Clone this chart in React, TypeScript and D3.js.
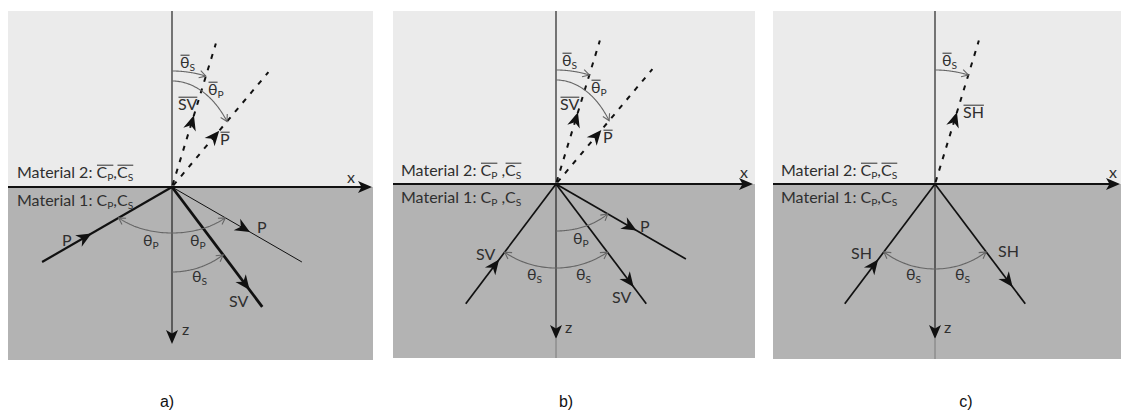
import React, { useEffect, useRef } from "react";
import * as d3 from "d3";

const WIDTH = 1121;
const HEIGHT = 412;

// Wave angles in degrees, measured from the z axis
const THETA_P = 60;
const THETA_S = 37;
const THETA_P_BAR = 40;
const THETA_S_BAR = 17;

const captions = ["a)", "b)", "c)"];

type Role = "incident" | "reflected" | "transmitted";
interface Ray { wave: string; phi: number; role: Role }
interface Arc { from: number; to: number; both: boolean }
interface Part { t: string; sub?: boolean; bar?: boolean }
interface Label { parts: Part[]; dx: number; dy: number; size?: number }

// Direction φ is measured from +z (downwards) turning toward +x
const raysA: Ray[] = [
  { wave: "P", phi: -THETA_P, role: "incident" },
  { wave: "P", phi: THETA_P, role: "reflected" },
  { wave: "SV", phi: THETA_S, role: "reflected" },
  { wave: "SV", phi: 180 - THETA_S_BAR, role: "transmitted" },
  { wave: "P", phi: 180 - THETA_P_BAR, role: "transmitted" },
];
const raysB: Ray[] = [
  { wave: "SV", phi: -THETA_S, role: "incident" },
  { wave: "P", phi: THETA_P, role: "reflected" },
  { wave: "SV", phi: THETA_S, role: "reflected" },
  { wave: "SV", phi: 180 - THETA_S_BAR, role: "transmitted" },
  { wave: "P", phi: 180 - THETA_P_BAR, role: "transmitted" },
];
const raysC: Ray[] = [
  { wave: "SH", phi: -THETA_S, role: "incident" },
  { wave: "SH", phi: THETA_S, role: "reflected" },
  { wave: "SH", phi: 180 - THETA_S_BAR, role: "transmitted" },
];

const arcsA: Arc[] = [
  { from: -THETA_P, to: THETA_P, both: true },
  { from: 0, to: THETA_S, both: false },
  { from: 180, to: 180 - THETA_S_BAR, both: false },
  { from: 180, to: 180 - THETA_P_BAR, both: false },
];
const arcsB: Arc[] = [
  { from: 0, to: THETA_P, both: false },
  { from: -THETA_S, to: THETA_S, both: true },
  { from: 180, to: 180 - THETA_S_BAR, both: false },
  { from: 180, to: 180 - THETA_P_BAR, both: false },
];
const arcsC: Arc[] = [
  { from: -THETA_S, to: THETA_S, both: true },
  { from: 180, to: 180 - THETA_S_BAR, both: false },
];

// Rich-text helpers
const theta = (s: string, bar = false): Part[] => [{ t: "θ", bar }, { t: s, sub: true }];
const plain = (t: string): Part[] => [{ t }];
const barred = (t: string): Part[] => [{ t, bar: true }];
const mat2 = (gap: string): Part[] => [
  { t: "Material 2: " }, { t: "C", bar: true }, { t: "P", sub: true, bar: true }, { t: gap + "," },
  { t: "C", bar: true }, { t: "S", sub: true, bar: true },
];
const mat1 = (gap: string): Part[] => [
  { t: "Material 1: " }, { t: "C" }, { t: "P", sub: true }, { t: gap + "," }, { t: "C" }, { t: "S", sub: true },
];

const labelsA: Label[] = [
  { parts: mat2(""), dx: -155, dy: -9 },
  { parts: mat1(""), dx: -155, dy: 19 },
  { parts: plain("x"), dx: 175, dy: -4 },
  { parts: plain("z"), dx: 10, dy: 148 },
  { parts: plain("P"), dx: -110, dy: 59 },
  { parts: plain("P"), dx: 85, dy: 46 },
  { parts: plain("SV"), dx: 57, dy: 120 },
  { parts: theta("P"), dx: -29, dy: 59 },
  { parts: theta("P"), dx: 18, dy: 59 },
  { parts: theta("S"), dx: 20, dy: 95 },
  { parts: theta("S", true), dx: 8, dy: -119 },
  { parts: theta("P", true), dx: 36, dy: -92 },
  { parts: barred("SV"), dx: 6, dy: -77 },
  { parts: barred("P"), dx: 48, dy: -42 },
];
const labelsB: Label[] = [
  { parts: mat2(" "), dx: -155, dy: -8 },
  { parts: mat1(" "), dx: -155, dy: 19 },
  { parts: plain("x"), dx: 184, dy: -6 },
  { parts: plain("z"), dx: 9, dy: 149 },
  { parts: plain("SV"), dx: -80, dy: 76 },
  { parts: plain("P"), dx: 84, dy: 48 },
  { parts: plain("SV"), dx: 56, dy: 119 },
  { parts: theta("P"), dx: 17, dy: 60 },
  { parts: theta("S"), dx: -29, dy: 96 },
  { parts: theta("S"), dx: 20, dy: 96 },
  { parts: theta("S", true), dx: 6, dy: -118 },
  { parts: theta("P", true), dx: 35, dy: -91 },
  { parts: barred("SV"), dx: 4, dy: -74 },
  { parts: barred("P"), dx: 47, dy: -41 },
];
const labelsC: Label[] = [
  { parts: mat2(""), dx: -154, dy: -8 },
  { parts: mat1(""), dx: -154, dy: 19 },
  { parts: plain("x"), dx: 174, dy: -6 },
  { parts: plain("z"), dx: 9, dy: 149 },
  { parts: plain("SH"), dx: -84, dy: 75 },
  { parts: plain("SH"), dx: 63, dy: 73 },
  { parts: theta("S"), dx: -29, dy: 96 },
  { parts: theta("S"), dx: 20, dy: 96 },
  { parts: theta("S", true), dx: 7, dy: -118 },
  { parts: barred("SH"), dx: 28, dy: -66 },
];

// Panel geometry (pixels)
const panels = [
  {
    rays: raysA, arcs: arcsA, labels: labelsA, caption: captions[0],
    origin: [172, 187], box: [8, 11, 373, 360], xTip: 372, zTip: 344, zTail: false,
    rayLen: 150, arrowAt: [0.62, 0.6, 0.86, 0.5, 0.49], rayWidth: [2.2, 1, 2.8, 2, 2],
    arcShape: [[72, 46], [85, 85], [116, 116], [70, 106]], captionX: 167,
  },
  {
    rays: raysB, arcs: arcsB, labels: labelsB, caption: captions[1],
    origin: [556, 184], box: [393, 11, 755, 358], xTip: 753, zTip: 339, zTail: true,
    rayLen: 150, arrowAt: [0.63, 0.62, 0.86, 0.5, 0.47], rayWidth: [1.7, 1.7, 1.7, 2, 2],
    arcShape: [[67, 47], [88, 84], [114, 114], [67, 104]], captionX: 566,
  },
  {
    rays: raysC, arcs: arcsC, labels: labelsC, caption: captions[2],
    origin: [935, 184], box: [773, 11, 1121, 359], xTip: 1120, zTip: 339, zTail: true,
    rayLen: 150, arrowAt: [0.63, 0.86, 0.5], rayWidth: [1.7, 1.7, 2],
    arcShape: [[85, 85], [114, 114]], captionX: 966,
  },
];

const UPPER_FILL = "#ebebeb";
const LOWER_FILL = "#b3b3b3";
const INK = "#111";
const TEXT = "#2f2f2f";
const ARC = "#666";
const FONT = "Lato, 'Open Sans', sans-serif";
const LABEL_SIZE = 16;

const rad = (d: number) => (d * Math.PI) / 180;

function filledHead(g: any, tip: number[], dir: number[], L: number, w: number, notch: number) {
  const px = -dir[1], py = dir[0];
  const bx = tip[0] - L * dir[0], by = tip[1] - L * dir[1];
  const pts = [
    [tip[0], tip[1]],
    [bx + w * px, by + w * py],
    [tip[0] - (L - notch) * dir[0], tip[1] - (L - notch) * dir[1]],
    [bx - w * px, by - w * py],
  ];
  g.append("path").attr("d", "M" + pts.map((p) => p.join(",")).join("L") + "Z").attr("fill", INK);
}

function openHead(g: any, tip: number[], dir: number[]) {
  const L = 7.5, a = rad(30);
  const back = [-dir[0], -dir[1]];
  const rot = (v: number[], t: number) => [v[0] * Math.cos(t) - v[1] * Math.sin(t), v[0] * Math.sin(t) + v[1] * Math.cos(t)];
  const r1 = rot(back, a), r2 = rot(back, -a);
  g.append("path")
    .attr("d", `M${tip[0] + L * r1[0]},${tip[1] + L * r1[1]}L${tip[0]},${tip[1]}L${tip[0] + L * r2[0]},${tip[1] + L * r2[1]}`)
    .attr("fill", "none").attr("stroke", ARC).attr("stroke-width", 1.1);
}

function richText(g: any, x: number, y: number, parts: Part[], size: number) {
  let cx = x;
  const spans: { x0: number; x1: number; bar: boolean }[] = [];
  parts.forEach((p) => {
    const fs = p.sub ? size * 0.64 : size;
    const t = g.append("text")
      .attr("x", cx).attr("y", y + (p.sub ? 3 : 0))
      .attr("font-family", FONT).attr("font-size", fs).attr("fill", TEXT)
      .style("white-space", "pre")
      .text(p.t);
    const w = (t.node() as SVGTextElement).getComputedTextLength();
    spans.push({ x0: cx, x1: cx + w, bar: !!p.bar });
    cx += w;
  });
  // overbars across consecutive barred parts
  let run: { x0: number; x1: number } | null = null;
  const flush = () => {
    if (run) {
      g.append("line").attr("x1", run.x0 + 0.5).attr("x2", run.x1)
        .attr("y1", y - size * 0.8).attr("y2", y - size * 0.8)
        .attr("stroke", TEXT).attr("stroke-width", 1);
    }
    run = null;
  };
  spans.forEach((s) => {
    if (s.bar) run = run ? { x0: run.x0, x1: s.x1 } : { x0: s.x0, x1: s.x1 };
    else flush();
  });
  flush();
}

function drawPanel(svg: any, P: (typeof panels)[number]) {
  const [ox, oy] = P.origin;
  const [bx0, by0, bx1, by1] = P.box;
  // unit scales: one unit equals one ray length
  const sx = d3.scaleLinear().domain([-1, 1]).range([ox - P.rayLen, ox + P.rayLen]);
  const sz = d3.scaleLinear().domain([-1, 1]).range([oy - P.rayLen, oy + P.rayLen]);
  const g = svg.append("g");

  g.append("rect").attr("x", bx0).attr("y", by0).attr("width", bx1 - bx0).attr("height", oy - by0).attr("fill", UPPER_FILL);
  g.append("rect").attr("x", bx0).attr("y", oy).attr("width", bx1 - bx0).attr("height", by1 - oy).attr("fill", LOWER_FILL);

  // z axis
  g.append("line").attr("x1", ox).attr("x2", ox).attr("y1", by0).attr("y2", oy).attr("stroke", "#333").attr("stroke-width", 1.3);
  g.append("line").attr("x1", ox).attr("x2", ox).attr("y1", oy).attr("y2", P.zTip - 4).attr("stroke", "#222").attr("stroke-width", 1.2);
  if (P.zTail) {
    g.append("line").attr("x1", ox).attr("x2", ox).attr("y1", P.zTip).attr("y2", by1).attr("stroke", "#7a7a7a").attr("stroke-width", 1);
  }
  filledHead(g, [ox, P.zTip], [0, 1], 14, 6, 3.5);

  // x axis (interface)
  g.append("line").attr("x1", bx0).attr("x2", P.xTip - 6).attr("y1", oy).attr("y2", oy).attr("stroke", INK).attr("stroke-width", 2);
  filledHead(g, [P.xTip, oy], [1, 0], 14, 6, 3.5);

  // rays
  P.rays.forEach((r, i) => {
    const d = [Math.sin(rad(r.phi)), Math.cos(rad(r.phi))];
    const end = [sx(d[0]), sz(d[1])];
    const f = P.arrowAt[i];
    const line = g.append("line").attr("x1", ox).attr("y1", oy).attr("x2", end[0]).attr("y2", end[1])
      .attr("stroke", INK).attr("stroke-width", P.rayWidth[i]);
    if (r.role === "transmitted") line.attr("stroke-dasharray", "5 7").attr("stroke-dashoffset", -2);
    const tip = [sx(f * d[0]), sz(f * d[1])];
    const dir = r.role === "incident" ? [-d[0], -d[1]] : d;
    filledHead(g, tip, dir, 15, 6.5, 4.5);
  });

  // angle arcs (elliptic, intersecting the rays)
  P.arcs.forEach((a, i) => {
    const [rx, rz] = P.arcShape[i];
    const pts = d3.range(0, 61).map((k) => {
      const phi = rad(a.from + ((a.to - a.from) * k) / 60);
      const s = Math.sin(phi), c = Math.cos(phi);
      const t = 1 / Math.sqrt((s * s) / (rx * rx) + (c * c) / (rz * rz));
      return [sx((t * s) / P.rayLen), sz((t * c) / P.rayLen)] as [number, number];
    });
    g.append("path").attr("d", d3.line()(pts)).attr("fill", "none").attr("stroke", ARC).attr("stroke-width", 1.1);
    const n = pts.length;
    const dirOf = (p: number[], q: number[]) => {
      const dx = p[0] - q[0], dy = p[1] - q[1], l = Math.hypot(dx, dy);
      return [dx / l, dy / l];
    };
    openHead(g, pts[n - 1], dirOf(pts[n - 1], pts[n - 3]));
    if (a.both) openHead(g, pts[0], dirOf(pts[0], pts[2]));
  });

  // labels
  P.labels.forEach((l) => richText(g, ox + l.dx, oy + l.dy, l.parts, l.size ?? LABEL_SIZE));

  // caption
  g.append("text").attr("x", P.captionX).attr("y", 407).attr("text-anchor", "middle")
    .attr("font-family", "'Liberation Sans Narrow', 'Liberation Sans', Arial, sans-serif")
    .attr("font-size", 16).attr("fill", "#111").text(P.caption);
}

export default function App() {
  const ref = useRef<SVGSVGElement | null>(null);
  useEffect(() => {
    const svg = d3.select(ref.current);
    svg.selectAll("*").remove();
    svg.append("rect").attr("width", WIDTH).attr("height", HEIGHT).attr("fill", "#fff");
    panels.forEach((p) => drawPanel(svg, p));
  }, []);
  return (
    <svg ref={ref} width={WIDTH} height={HEIGHT}
      style={{ position: "absolute", left: 0, top: 0, display: "block" }} />
  );
}
